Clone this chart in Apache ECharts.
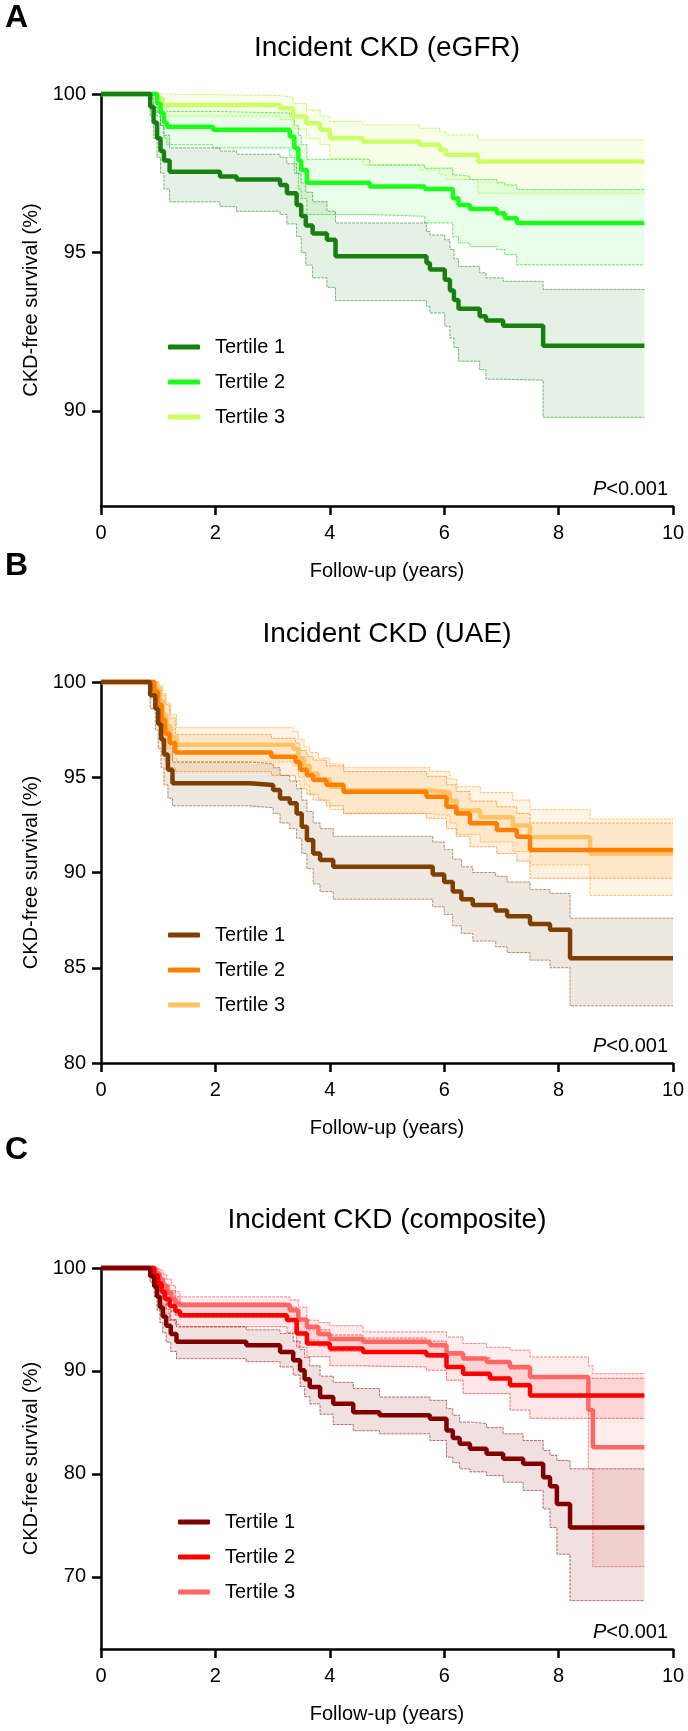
<!DOCTYPE html>
<html><head><meta charset="utf-8">
<script src="https://cdn.jsdelivr.net/npm/echarts@6/dist/echarts.min.js"></script>
<style>html,body{margin:0;padding:0;background:#fff}#c{width:688px;height:1731px}</style>
</head><body><div id="c"></div><script>
// ---------- tick labels / categories ----------
const xTicks = [0, 2, 4, 6, 8, 10];
const yTicksA = [90, 95, 100];
const yTicksB = [80, 85, 90, 95, 100];
const yTicksC = [70, 80, 90, 100];
const tertileNames = ['Tertile 1', 'Tertile 2', 'Tertile 3'];

// ---------- Panel A: eGFR ----------
const aT1Time  = [0,0.86,0.92,0.98,1.04,1.1,1.2,2.08,2.37,3.13,3.25,3.42,3.5,3.58,3.7,3.95,4.1,5.69,5.75,6.01,6.1,6.17,6.25,6.62,6.73,7.03,7.73,9.5];
const aT1Surv  = [100,99.6,99.1,98.6,98.2,97.9,97.55,97.4,97.3,97.13,96.87,96.5,96.15,95.85,95.6,95.4,94.88,94.67,94.46,94.14,93.8,93.5,93.22,92.99,92.85,92.69,92.06,92.06];
const aT1Upper = [100,99.9,99.6,99.3,99.0,98.7,98.3,98.2,98.1,98.0,97.8,97.5,97.2,96.9,96.6,96.3,95.93,95.66,95.55,95.4,95.1,94.8,94.56,94.36,94.2,94.09,93.83,93.83];
const aT1Lower = [100,99.3,98.6,98.0,97.5,97.0,96.6,96.45,96.3,96.2,95.9,95.5,95.0,94.6,94.2,93.9,93.48,93.3,93.09,92.67,92.3,92.0,91.57,91.3,91.0,90.97,89.8,89.8];

const aT2Time  = [0,0.98,1.04,1.1,1.15,1.96,3.3,3.38,3.45,3.5,3.6,4.7,5.66,6.15,6.25,6.45,6.92,7.06,7.27,9.5];
const aT2Surv  = [100,99.7,99.4,99.1,98.97,98.87,98.66,98.3,97.9,97.6,97.2,97.08,97.0,96.71,96.5,96.37,96.24,96.08,95.93,95.93];
const aT2Upper = [100,99.95,99.8,99.6,99.45,99.4,99.3,99.0,98.7,98.4,97.94,97.76,97.66,97.45,97.4,97.3,97.2,97.13,96.98,96.98];
const aT2Lower = [100,99.4,99.0,98.6,98.4,98.3,98.0,97.5,97.0,96.7,96.2,96.14,95.93,95.5,95.3,95.19,95.09,94.93,94.61,94.61];

const aT3Time  = [0,1.0,1.08,3.13,3.36,3.59,3.83,4.0,4.58,5.57,5.92,6.03,6.59,9.5];
const aT3Surv  = [100,99.85,99.65,99.55,99.29,99.08,98.87,98.6,98.5,98.4,98.24,98.08,97.87,97.87];
const aT3Upper = [100,100,99.95,99.9,99.7,99.5,99.3,99.13,99.02,98.92,98.81,98.71,98.55,98.55];
const aT3Lower = [100,99.7,99.3,99.2,98.9,98.6,98.4,97.97,97.76,97.6,97.45,97.3,96.87,96.87];

// ---------- Panel B: UAE ----------
const bT1Time  = [0,0.86,0.95,1.0,1.05,1.1,1.17,1.25,2.6,3.01,3.13,3.3,3.42,3.51,3.6,3.71,3.83,4.06,5.8,6.0,6.15,6.3,6.5,6.9,7.1,7.5,7.85,8.2,10];
const bT1Surv  = [100,99.3,98.6,97.8,97.0,96.2,95.4,94.68,94.59,94.33,93.89,93.63,93.1,92.4,91.7,91.0,90.66,90.3,89.9,89.5,89.0,88.6,88.3,88.0,87.7,87.3,87.0,85.5,85.5];
const bT1Upper = [100,100,99.7,99.2,98.6,97.8,96.9,95.8,95.7,95.5,95.1,94.8,94.4,93.8,93.2,92.6,92.3,91.9,91.6,91.2,90.7,90.3,90.0,89.8,89.5,89.1,88.9,87.6,87.6];
const bT1Lower = [100,98.6,97.5,96.5,95.5,94.6,93.9,93.5,93.4,93.1,92.6,92.3,91.8,91.0,90.2,89.4,89.0,88.6,88.2,87.8,87.2,86.8,86.4,86.1,85.8,85.4,85.0,83.0,83.0];

const bT2Time  = [0,0.93,1.0,1.06,1.12,1.2,1.3,2.98,3.4,3.48,3.6,3.71,3.94,4.24,5.69,6.04,6.21,6.45,6.92,7.27,7.5,10];
const bT2Surv  = [100,99.5,98.8,98.0,97.3,96.8,96.3,96.08,95.8,95.4,95.1,94.86,94.6,94.24,93.98,93.45,93.1,92.58,92.23,91.88,91.18,91.18];
const bT2Upper = [100,100,99.7,99.3,98.8,98.1,97.25,97.05,96.8,96.4,96.1,95.9,95.6,95.3,95.05,94.6,94.25,93.75,93.45,93.1,92.6,92.6];
const bT2Lower = [100,99.0,97.9,96.7,95.8,95.5,95.3,95.1,94.8,94.4,94.1,93.8,93.5,93.1,92.85,92.3,91.9,91.35,91.0,90.6,89.7,89.7];

const bT3Time  = [0,0.95,1.02,1.08,1.14,1.22,1.32,3.36,3.45,3.55,3.65,3.8,4.0,4.24,5.75,6.1,6.22,6.63,7.2,7.5,8.55,10];
const bT3Surv  = [100,99.6,99.0,98.3,97.7,97.1,96.7,96.5,96.0,95.6,95.2,94.9,94.5,94.3,94.2,93.77,93.25,92.9,92.47,91.86,91.0,91.0];
const bT3Upper = [100,100,99.8,99.4,98.9,98.3,97.6,97.4,97.0,96.6,96.3,96.0,95.7,95.5,95.3,94.9,94.5,94.2,93.8,93.3,92.8,92.8];
const bT3Lower = [100,99.2,98.2,97.2,96.5,96.0,95.8,95.6,95.0,94.6,94.1,93.8,93.3,93.1,93.0,92.6,92.0,91.6,91.1,90.4,88.8,88.8];

// ---------- Panel C: composite ----------
const cT1Time  = [0,0.86,0.93,0.98,1.03,1.08,1.14,1.22,1.32,2.54,3.13,3.36,3.48,3.56,3.65,3.83,4.06,4.41,4.87,5.75,6.04,6.15,6.27,6.45,6.74,7.03,7.38,7.73,7.85,7.97,8.2,9.5];
const cT1Surv  = [100,99.2,98.2,97.2,96.2,95.3,94.4,93.6,92.83,92.5,91.85,91.04,90.07,89.2,88.44,87.47,86.82,86.0,85.69,85.36,84.23,83.5,82.93,82.44,81.96,81.47,80.98,79.68,78.8,77.09,74.81,74.81];
const cT1Upper = [100,99.8,99.3,98.6,97.8,97.0,96.0,95.0,94.29,94.0,93.64,92.9,92.1,91.3,90.5,89.5,88.9,88.3,87.47,87.15,86.34,85.7,85.04,84.9,84.5,83.9,83.25,82.28,81.8,81.3,80.5,80.5];
const cT1Lower = [100,98.6,97.2,95.9,94.7,93.7,92.8,91.9,91.2,90.9,90.39,89.6,88.5,87.5,86.8,85.8,84.8,84.2,83.9,83.25,81.63,81.1,80.5,80.2,79.85,79.2,78.4,76.6,74.8,72.2,67.7,67.7];

const cT2Time  = [0,0.93,1.0,1.06,1.12,1.2,1.3,1.38,3.25,3.42,3.6,4.0,4.58,5.69,6.04,6.33,6.8,7.15,7.5,9.5];
const cT2Surv  = [100,99.3,98.5,97.7,97.0,96.3,95.8,95.42,94.94,93.64,92.67,92.18,91.85,91.53,90.39,89.74,89.26,88.61,87.63,87.63];
const cT2Upper = [100,99.9,99.5,99.0,98.4,97.8,97.2,96.6,96.2,95.0,94.0,93.5,93.2,92.9,91.9,91.3,90.8,90.2,89.3,89.3];
const cT2Lower = [100,98.7,97.6,96.5,95.6,94.9,94.5,94.3,93.7,92.3,91.4,90.5,90.39,90.07,89.1,87.8,87.8,86.2,85.4,85.4];

const cT3Time  = [0,0.95,1.02,1.08,1.15,1.23,1.3,1.38,3.3,3.45,3.6,3.8,4.0,4.58,5.75,6.04,6.33,6.74,7.15,7.5,8.52,8.6,9.5];
const cT3Surv  = [100,99.5,98.9,98.3,97.6,97.0,96.6,96.4,95.9,95.0,94.29,93.6,93.1,92.83,92.5,91.69,91.2,90.88,90.39,89.42,86.2,82.6,82.6];
const cT3Upper = [100,100,99.8,99.4,98.9,98.3,97.7,97.2,96.9,96.2,94.94,94.7,94.4,93.8,93.8,93.3,92.67,92.3,92.02,91.36,90.5,89.74,89.74];
const cT3Lower = [100,99.0,98.0,97.2,96.4,95.8,95.4,95.2,94.8,93.8,93.0,92.4,91.9,91.7,91.3,90.4,89.8,89.4,88.8,87.5,80.5,71.0,71.0];

// ---------- layout & styles ----------
const F = '"Liberation Sans", Arial, Helvetica, sans-serif';
const GRID_LEFT = 101, GRID_RIGHT = 15;
const panels = [
  { key:'A', title:'Incident CKD (eGFR)', top:94, height:412, yMin:87, yTicks:yTicksA, custom:true, letterY:18, titleY:48, legendTop:332, legendLeft:163,
    lines:['#178011','#1aff1a','#ccff66'],
    bands:['rgba(23,128,17,0.11)','rgba(26,255,26,0.09)','rgba(204,255,102,0.14)'],
    edges:['rgba(23,128,17,0.55)','rgba(26,220,26,0.65)','rgba(190,245,90,0.85)'],
    data:[[aT1Time,aT1Surv,aT1Lower,aT1Upper],[aT2Time,aT2Surv,aT2Lower,aT2Upper],[aT3Time,aT3Surv,aT3Lower,aT3Upper]] },
  { key:'B', title:'Incident CKD (UAE)', top:682, height:381, yMin:80, yTicks:yTicksB, custom:false, letterY:566, titleY:634, legendTop:920, legendLeft:163,
    lines:['#7f3f00','#ff8000','#ffc266'],
    bands:['rgba(127,63,0,0.12)','rgba(255,128,0,0.12)','rgba(255,194,102,0.16)'],
    edges:['rgba(127,63,0,0.55)','rgba(255,128,0,0.65)','rgba(255,190,90,0.9)'],
    data:[[bT1Time,bT1Surv,bT1Lower,bT1Upper],[bT2Time,bT2Surv,bT2Lower,bT2Upper],[bT3Time,bT3Surv,bT3Lower,bT3Upper]] },
  { key:'C', title:'Incident CKD (composite)', top:1268, height:381, yMin:63, yTicks:yTicksC, custom:true, letterY:1150, titleY:1220, legendTop:1507, legendLeft:173,
    lines:['#800000','#ff0000','#ff6666'],
    bands:['rgba(128,0,0,0.12)','rgba(255,0,0,0.10)','rgba(255,102,102,0.12)'],
    edges:['rgba(128,0,0,0.55)','rgba(255,0,0,0.55)','rgba(255,102,102,0.8)'],
    data:[[cT1Time,cT1Surv,cT1Lower,cT1Upper],[cT2Time,cT2Surv,cT2Lower,cT2Upper],[cT3Time,cT3Surv,cT3Lower,cT3Upper]] }
];

// stepped confidence band drawn as one polygon through the axis scales
function bandSeries(gi, t, lo, hi, fill) {
  return { type:'custom', xAxisIndex:gi, yAxisIndex:gi, silent:true, z:1, animation:false,
    encode:{ x:0, y:[1,2] },
    data: t.map((x,k)=>[x, lo[k], hi[k]]),
    renderItem: (params, api) => {
      if (params.dataIndex !== 0) return null;
      const n = t.length, pts = [];
      for (let k = 0; k < n; k++) {
        pts.push(api.coord([t[k], hi[k]]));
        if (k < n-1) pts.push(api.coord([t[k+1], hi[k]]));
      }
      for (let k = n-1; k >= 0; k--) {
        if (k < n-1) pts.push(api.coord([t[k+1], lo[k]]));
        pts.push(api.coord([t[k], lo[k]]));
      }
      return { type:'polygon', shape:{ points:pts }, style:{ fill:fill, stroke:null } };
    } };
}

const grid = [], xAxis = [], yAxis = [], series = [], legend = [], graphic = [];
panels.forEach((p, gi) => {
  grid.push({ left: GRID_LEFT, right: GRID_RIGHT, top: p.top, height: p.height });
  xAxis.push({ type:'value', gridIndex:gi, min:0, max:10, interval:2,
    axisLine:{ onZero:false, lineStyle:{ color:'#000', width:2.5 } },
    axisTick:{ length:9, lineStyle:{ color:'#000', width:2.5 } },
    axisLabel:{ color:'#000', fontSize:20, fontFamily:F, margin:17, formatter: v => xTicks.includes(v) ? String(v) : '' },
    splitLine:{ show:false },
    name:'Follow-up (years)', nameLocation:'middle', nameGap:55,
    nameTextStyle:{ color:'#000', fontSize:20, fontFamily:F } });
  const ya = { type:'value', gridIndex:gi, min:p.yMin, max:100,
    axisLine:{ show:true, lineStyle:{ color:'#000', width:2.5 } },
    axisTick:{ show:true, length:9, lineStyle:{ color:'#000', width:2.5 } },
    axisLabel:{ color:'#000', fontSize:20, fontFamily:F, margin:15 },
    splitLine:{ show:false },
    name:'CKD-free survival (%)', nameLocation:'middle', nameGap:60,
    nameTextStyle:{ color:'#000', fontSize:20, fontFamily:F } };
  if (p.custom) { ya.axisLabel.customValues = p.yTicks; ya.axisTick.customValues = p.yTicks; }
  else { ya.interval = 5; }
  yAxis.push(ya);

  // bands (T3, T2, T1)
  [2,1,0].forEach(i => {
    const [t, s, lo, hi] = p.data[i];
    series.push(bandSeries(gi, t, lo, hi, p.bands[i]));
    const edge = { color:p.edges[i], width:1, type:[3,1] };
    series.push({ type:'line', xAxisIndex:gi, yAxisIndex:gi, step:'end', symbol:'none', silent:true,
      data: t.map((x,k)=>[x, lo[k]]), lineStyle:edge, z:2, animation:false });
    series.push({ type:'line', xAxisIndex:gi, yAxisIndex:gi, step:'end', symbol:'none', silent:true,
      data: t.map((x,k)=>[x, hi[k]]), lineStyle:edge, z:2, animation:false });
  });
  // survival lines (T3, T2, T1 on top)
  [2,1,0].forEach(i => {
    const [t, s] = p.data[i];
    series.push({ name: p.key + '|' + tertileNames[i], type:'line', xAxisIndex:gi, yAxisIndex:gi, step:'end',
      symbol:'none', clip:false, color:p.lines[i], itemStyle:{ color:p.lines[i] },
      data: t.map((x,k)=>[x, s[k]]), lineStyle:{ color:p.lines[i], width:4.5 }, z:3, animation:false });
  });

  legend.push({ orient:'vertical', left:p.legendLeft, top:p.legendTop, itemWidth:32, itemHeight:5, itemGap:15,
    icon:'roundRect', selectedMode:false,
    data: tertileNames.map(n => p.key + '|' + n),
    formatter: n => n.split('|')[1],
    textStyle:{ color:'#000', fontSize:20, fontFamily:F, padding:[0,0,0,10] } });

  graphic.push({ type:'text', x:5, y:p.letterY, style:{ text:p.key, font:'bold 32px ' + F, fill:'#000',
    textVerticalAlign:'middle', verticalAlign:'middle' } });
  graphic.push({ type:'text', x:GRID_LEFT + (688 - GRID_LEFT - GRID_RIGHT)/2, y:p.titleY,
    style:{ text:p.title, font:'28px ' + F, fill:'#000', textAlign:'center', align:'center', textVerticalAlign:'middle', verticalAlign:'middle' } });
  graphic.push({ type:'text', x:668, y:p.top + p.height - 17,
    style:{ text:'{i|P}{n|<0.001}', textAlign:'right', align:'right', textVerticalAlign:'middle', verticalAlign:'middle',
      rich:{ i:{ fontStyle:'italic', fontSize:20, fontFamily:F, fill:'#000' }, n:{ fontSize:20, fontFamily:F, fill:'#000' } } } });
});

const chart = echarts.init(document.getElementById('c'), null, { renderer:'canvas' });
chart.setOption({ animation:false, backgroundColor:'#fff', grid, xAxis, yAxis, series, legend, graphic });
</script></body></html>
